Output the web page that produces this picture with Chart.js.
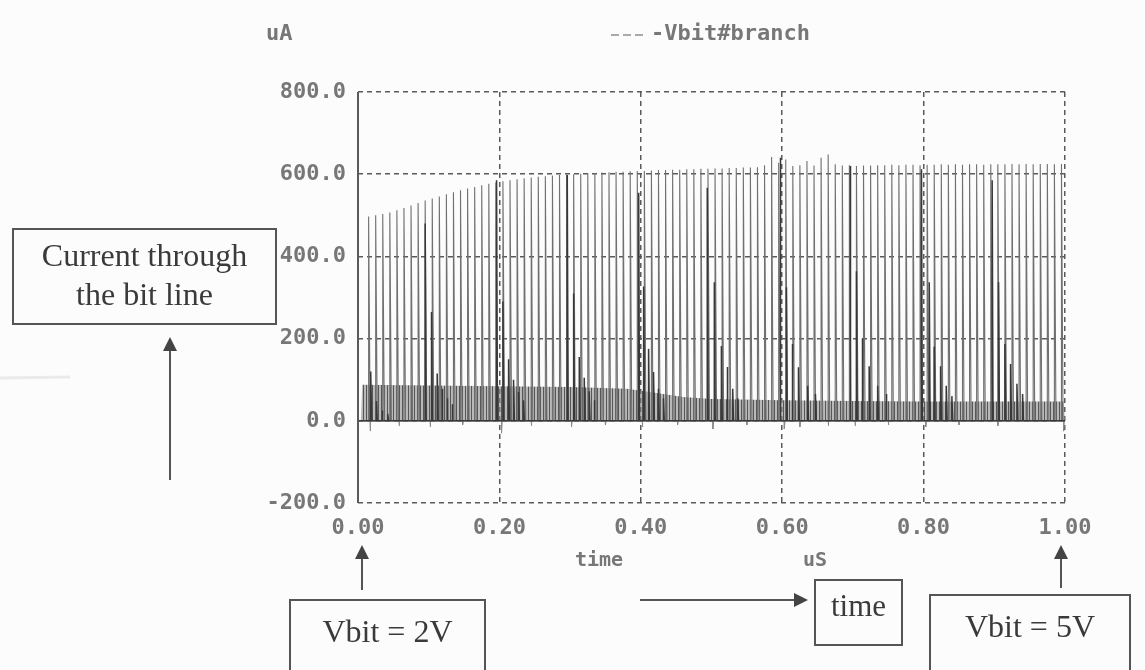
<!DOCTYPE html>
<html>
<head>
<meta charset="utf-8">
<title>Vbit branch current</title>
<script src="https://cdn.jsdelivr.net/npm/chart.js@4.4.1/dist/chart.umd.min.js"></script>
<style>
  html, body { margin: 0; padding: 0; background: #fcfcfc; }
  #wrap { width: 1145px; height: 670px; position: relative; }
</style>
</head>
<body>
<div id="wrap"><canvas id="chart"></canvas></div>
<script>
// ---- data (time in uS, current in uA) ----
const xTicks = [0, 0.2, 0.4, 0.6, 0.8, 1.0];
const yTicks = [-200, 0, 200, 400, 600, 800];

// regular clock spikes
const spikeTimes = [
  0.015, 0.025, 0.035, 0.045, 0.055, 0.065, 0.075, 0.085, 0.095, 0.105,
  0.115, 0.125, 0.135, 0.145, 0.155, 0.165, 0.175, 0.185, 0.195, 0.205,
  0.215, 0.225, 0.235, 0.245, 0.255, 0.265, 0.275, 0.285, 0.295, 0.305,
  0.315, 0.325, 0.335, 0.345, 0.355, 0.365, 0.375, 0.385, 0.395, 0.405,
  0.415, 0.425, 0.435, 0.445, 0.455, 0.465, 0.475, 0.485, 0.495, 0.505,
  0.515, 0.525, 0.535, 0.545, 0.555, 0.565, 0.575, 0.585, 0.595, 0.605,
  0.615, 0.625, 0.635, 0.645, 0.655, 0.665, 0.675, 0.685, 0.695, 0.705,
  0.715, 0.725, 0.735, 0.745, 0.755, 0.765, 0.775, 0.785, 0.795, 0.805,
  0.815, 0.825, 0.835, 0.845, 0.855, 0.865, 0.875, 0.885, 0.895, 0.905,
  0.915, 0.925, 0.935, 0.945, 0.955, 0.965, 0.975, 0.985, 0.995
];
const spikePeaks = [
  497, 500, 503, 507, 512, 518, 524, 530, 536, 541,
  546, 551, 556, 561, 565, 569, 573, 577, 580, 583,
  585, 588, 590, 592, 594, 595, 597, 598, 599, 600,
  601, 602, 603, 604, 605, 606, 606, 607, 608, 608,
  609, 610, 610, 611, 611, 612, 612, 613, 613, 614,
  614, 615, 615, 616, 616, 617, 622, 642, 628, 636,
  620, 622, 632, 621, 640, 648, 624, 621, 622, 620,
  621, 621, 622, 622, 623, 622, 623, 623, 622, 623,
  623, 624, 623, 624, 623, 624, 624, 623, 624, 624,
  624, 625, 624, 625, 624, 625, 625, 624, 625
];

// darker read events every 0.1 uS with their decaying tail
const eventTimes = [
  0.018, 0.026, 0.034, 0.042,
  0.095, 0.104, 0.112, 0.119, 0.126, 0.133,
  0.196, 0.205, 0.213, 0.220, 0.227, 0.234,
  0.296, 0.305, 0.313, 0.320, 0.327, 0.334,
  0.397, 0.404, 0.411, 0.418, 0.425, 0.432,
  0.494, 0.504, 0.514, 0.522, 0.530, 0.537,
  0.597, 0.606, 0.614, 0.623, 0.636, 0.647,
  0.696, 0.705, 0.713, 0.723, 0.735, 0.747,
  0.797, 0.808, 0.815, 0.824, 0.832, 0.840,
  0.897, 0.906, 0.915, 0.923, 0.932, 0.940
];
const eventPeaks = [
  120, 48, 25, 17,
  480, 265, 115, 78, 55, 40,
  585, 290, 150, 100, 70, 50,
  598, 310, 155, 105, 72, 50,
  555, 327, 175, 119, 78, 55,
  567, 337, 182, 131, 78, 55,
  640, 325, 187, 130, 85, 65,
  620, 364, 200, 133, 85, 65,
  612, 337, 180, 133, 85, 60,
  585, 337, 187, 138, 90, 65
];

// dense low-level band under the spikes
const bandTimes = [0.004, 0.006, 0.1, 0.2, 0.3, 0.38, 0.42, 0.46, 0.5, 0.6, 0.7, 0.8, 0.9, 0.998, 1.0];
const bandTop   = [0, 88, 86, 84, 82, 78, 68, 58, 53, 50, 48, 47, 47, 47, 0];

// small undershoots below zero
const dipTimes  = [0.017, 0.058, 0.102, 0.148, 0.203, 0.245, 0.302, 0.35, 0.402, 0.452, 0.502, 0.55, 0.603, 0.625, 0.665, 0.703, 0.75, 0.803, 0.85, 0.905, 0.998];
const dipValues = [-25, -12, -15, -10, -30, -12, -15, -10, -15, -10, -20, -10, -20, -15, -12, -12, -10, -15, -10, -12, -25];

// ---- build point lists for the library ----
function spikePoints(times, values, w) {
  const pts = [{ x: 0, y: 0 }];
  times.forEach((t, i) => {
    pts.push({ x: t, y: 0 }, { x: t, y: values[i] }, { x: t + w, y: 0 });
  });
  pts.push({ x: 1, y: 0 });
  return pts;
}
const bandPoints = bandTimes.map((t, i) => ({ x: t, y: bandTop[i] }));

// vertical hatch for the band
function hatch() {
  const c = document.createElement('canvas');
  c.width = 3; c.height = 4;
  const g = c.getContext('2d');
  g.fillStyle = 'rgba(140,140,140,0.6)';
  g.fillRect(0, 0, 3, 4);
  g.fillStyle = 'rgba(70,70,70,0.85)';
  g.fillRect(0, 0, 1, 4);
  return g.createPattern(c, 'repeat');
}

// ---- annotations drawn on top ----
const mono = '"DejaVu Sans Mono", monospace';
const serif = '"Liberation Serif", "DejaVu Serif", serif';

function box(ctx, x, y, w, h, lines, size, ty) {
  ctx.strokeStyle = '#555';
  ctx.lineWidth = 2;
  ctx.strokeRect(x, y, w, h);
  ctx.fillStyle = '#3a3a3a';
  ctx.font = size + 'px ' + serif;
  ctx.textAlign = 'center';
  ctx.textBaseline = 'middle';
  const lh = size * 1.2;
  lines.forEach((l, i) => ctx.fillText(l, x + w / 2, ty + i * lh));
}

function arrow(ctx, x1, y1, x2, y2) {
  const a = Math.atan2(y2 - y1, x2 - x1);
  ctx.strokeStyle = '#555';
  ctx.fillStyle = '#444';
  ctx.lineWidth = 2;
  ctx.beginPath();
  ctx.moveTo(x1, y1);
  ctx.lineTo(x2 - 12 * Math.cos(a), y2 - 12 * Math.sin(a));
  ctx.stroke();
  ctx.beginPath();
  ctx.moveTo(x2, y2);
  ctx.lineTo(x2 - 14 * Math.cos(a) + 7 * Math.sin(a), y2 - 14 * Math.sin(a) - 7 * Math.cos(a));
  ctx.lineTo(x2 - 14 * Math.cos(a) - 7 * Math.sin(a), y2 - 14 * Math.sin(a) + 7 * Math.cos(a));
  ctx.closePath();
  ctx.fill();
}

const notesPlugin = {
  id: 'notes',
  afterDraw(chart) {
    const ctx = chart.ctx;
    const area = chart.chartArea;
    ctx.save();
    // solid left axis line (grid lines themselves are dashed)
    ctx.strokeStyle = '#5a5a5a';
    ctx.lineWidth = 2;
    ctx.beginPath();
    ctx.moveTo(area.left, area.top);
    ctx.lineTo(area.left, area.bottom);
    ctx.stroke();
    // header
    ctx.font = 'bold 22px ' + mono;
    ctx.fillStyle = '#777';
    ctx.textBaseline = 'middle';
    ctx.textAlign = 'left';
    ctx.fillText('uA', 266, 34);
    ctx.fillText('-Vbit#branch', 651, 34);
    ctx.strokeStyle = '#aaa';
    ctx.lineWidth = 2;
    ctx.setLineDash([8, 4]);
    ctx.beginPath();
    ctx.moveTo(611, 35);
    ctx.lineTo(646, 35);
    ctx.stroke();
    ctx.setLineDash([]);
    // axis titles
    ctx.font = 'bold 20px ' + mono;
    ctx.textAlign = 'center';
    ctx.fillText('time', 599, 561);
    ctx.fillText('uS', 815, 561);
    // faint scan smudge
    ctx.strokeStyle = 'rgba(0,0,0,0.07)';
    ctx.lineWidth = 3;
    ctx.beginPath();
    ctx.moveTo(0, 378);
    ctx.lineTo(70, 377);
    ctx.stroke();
    // boxes and arrows
    box(ctx, 13, 229, 263, 95, ['Current through', 'the bit line'], 32, 258);
    arrow(ctx, 170, 480, 170, 337);
    box(ctx, 290, 600, 195, 90, ['Vbit = 2V'], 32, 634);
    arrow(ctx, 362, 590, 362, 545);
    box(ctx, 815, 580, 87, 65, ['time'], 31, 608);
    arrow(ctx, 640, 600, 808, 600);
    box(ctx, 930, 595, 200, 95, ['Vbit = 5V'], 32, 629);
    arrow(ctx, 1061, 588, 1061, 545);
    ctx.restore();
  }
};

const grid = { color: '#5a5a5a', lineWidth: 1.5, drawTicks: false };
const dash = [5, 4];

new Chart(document.getElementById('chart'), {
  type: 'line',
  data: {
    datasets: [
      {
        data: spikePoints(eventTimes, eventPeaks, 0.0012),
        borderColor: '#383838',
        borderWidth: 1.5,
        order: 1
      },
      {
        data: spikePoints(dipTimes, dipValues, 0.001),
        borderColor: '#8a8a8a',
        borderWidth: 1,
        order: 2
      },
      {
        data: spikePoints(spikeTimes, spikePeaks, 0.0022),
        borderColor: '#707070',
        borderWidth: 1.1,
        order: 3
      },
      {
        data: bandPoints,
        borderColor: 'rgba(0,0,0,0)',
        borderWidth: 0,
        backgroundColor: hatch(),
        fill: 'origin',
        order: 4
      }
    ]
  },
  options: {
    responsive: true,
    maintainAspectRatio: false,
    animation: false,
    parsing: false,
    elements: { point: { radius: 0 }, line: { tension: 0 } },
    layout: { padding: { left: 248, right: 80, top: 92, bottom: 127 } },
    plugins: { legend: { display: false }, tooltip: { enabled: false } },
    scales: {
      x: {
        type: 'linear',
        min: 0,
        max: 1,
        afterBuildTicks: s => { s.ticks = xTicks.map(v => ({ value: v })); },
        afterFit: s => { s.height = 40; },
        ticks: {
          callback: v => Number(v).toFixed(2),
          color: '#777',
          font: { family: mono, size: 22, weight: 'bold' },
          padding: 12,
          maxRotation: 0
        },
        grid: grid,
        border: { display: false, dash: dash }
      },
      y: {
        min: -200,
        max: 800,
        afterBuildTicks: s => { s.ticks = yTicks.map(v => ({ value: v })); },
        afterFit: s => { s.width = 110; },
        ticks: {
          callback: v => Number(v).toFixed(1),
          color: '#777',
          font: { family: mono, size: 22, weight: 'bold' },
          padding: 12
        },
        grid: grid,
        border: { display: false, dash: dash }
      }
    }
  },
  plugins: [notesPlugin]
});
</script>
</body>
</html>
